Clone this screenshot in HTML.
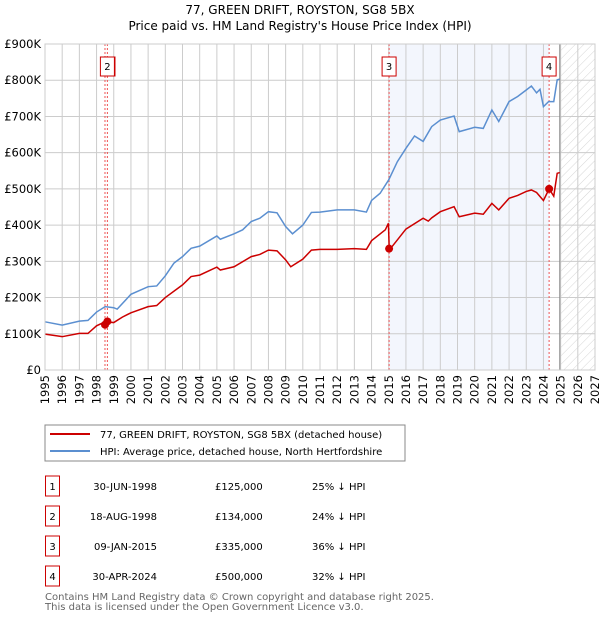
<!DOCTYPE html>
<html><head><meta charset="utf-8"><style>
body{margin:0;background:#fff;font-family:"DejaVu Sans","Liberation Sans",sans-serif;}
svg text{font-family:"DejaVu Sans","Liberation Sans",sans-serif;}
</style></head><body>
<svg id="c" width="600" height="620" xmlns="http://www.w3.org/2000/svg">
<defs><pattern id="hatch" width="6" height="6" patternUnits="userSpaceOnUse" patternTransform="rotate(45)"><line x1="0" y1="0" x2="0" y2="6" stroke="#ccc" stroke-width="0.8"/></pattern></defs>
<text x="300" y="14" text-anchor="middle" font-size="12">77, GREEN DRIFT, ROYSTON, SG8 5BX</text>
<text x="300" y="30" text-anchor="middle" font-size="12">Price paid vs. HM Land Registry's House Price Index (HPI)</text>
<g id="plot"></g>
<rect x="45" y="425" width="360" height="36" fill="#fff" stroke="#888"/>
<line x1="50" y1="434" x2="90" y2="434" stroke="#cc0000" stroke-width="2"/>
<text x="100" y="438" font-size="10">77, GREEN DRIFT, ROYSTON, SG8 5BX (detached house)</text>
<line x1="50" y1="451" x2="90" y2="451" stroke="#5b8fd0" stroke-width="2"/>
<text x="100" y="455" font-size="10">HPI: Average price, detached house, North Hertfordshire</text>
<g id="table" font-size="10"></g>
<text x="45" y="600" font-size="10" fill="#666">Contains HM Land Registry data © Crown copyright and database right 2025.</text>
<text x="45" y="610" font-size="10" fill="#666">This data is licensed under the Open Government Licence v3.0.</text>
</svg>
<script>
const hpiYears=[1995,1996,1997,1997.5,1998,1998.5,1999,1999.2,2000,2001,2001.5,2002,2002.5,2003,2003.5,2004,2005,2005.2,2006,2006.5,2007,2007.5,2008,2008.5,2009,2009.4,2010,2010.5,2011,2012,2013,2013.7,2014,2014.5,2015,2015.5,2016,2016.5,2017,2017.5,2018,2018.8,2019.1,2020,2020.5,2021,2021.4,2022,2022.5,2023,2023.3,2023.6,2023.8,2024,2024.3,2024.6,2024.8,2024.95];
const hpiValues=[133,124,135,137,160,175,172,168,209,230,232,260,295,313,336,342,370,361,376,387,410,419,437,434,396,376,400,435,436,442,442,436,468,488,525,575,612,646,631,672,690,701,658,670,667,718,686,741,755,773,784,765,775,727,741,741,801,803];
const ppYears=[1995,1996,1997,1997.5,1998,1998.5,1999,1999.5,2000,2001,2001.5,2002,2003,2003.5,2004,2005,2005.2,2006,2007,2007.5,2008,2008.5,2009,2009.3,2010,2010.5,2011,2012,2013,2013.7,2014,2014.8,2014.98,2015.03,2015.5,2016,2017,2017.3,2017.5,2018,2018.8,2019.1,2020,2020.5,2021,2021.4,2022,2022.5,2023,2023.3,2023.6,2024,2024.33,2024.6,2024.8,2024.95];
const ppValues=[99,92,101,101,122,133,131,146,158,175,178,200,235,258,262,284,276,285,313,319,331,329,304,285,306,331,333,333,335,333,357,387,405,331,359,389,419,411,420,437,451,423,433,430,460,442,474,482,493,497,490,468,500,480,543,545];
const saleLabels=["1","2","3","4"];
const saleYears=[1998.49,1998.63,2015.02,2024.33];
const salePrices=[125000,134000,335000,500000];
const saleDates=["30-JUN-1998","18-AUG-1998","09-JAN-2015","30-APR-2024"];
const salePriceText=["£125,000","£134,000","£335,000","£500,000"];
const saleDiff=["25% ↓ HPI","24% ↓ HPI","36% ↓ HPI","32% ↓ HPI"];
const yTicks=[0,100,200,300,400,500,600,700,800,900];
const yTickLabels=["£0","£100K","£200K","£300K","£400K","£500K","£600K","£700K","£800K","£900K"];
const xTicks=[1995,1996,1997,1998,1999,2000,2001,2002,2003,2004,2005,2006,2007,2008,2009,2010,2011,2012,2013,2014,2015,2016,2017,2018,2019,2020,2021,2022,2023,2024,2025,2026,2027];
const X0=45,X1=595,Y0=370,Y1=44;
const xs=y=>X0+(y-1995)/32*(X1-X0);
const ys=v=>Y0-v/900*(Y0-Y1);
const NS="http://www.w3.org/2000/svg";
const plot=document.getElementById('plot');
function mk(tag,attrs,parent){const e=document.createElementNS(NS,tag);for(const k in attrs)e.setAttribute(k,attrs[k]);(parent||plot).appendChild(e);return e;}
let r;
r=mk('rect',{x:X0,y:Y1,width:X1-X0,height:Y0-Y1,fill:'#fff'});


r=mk('rect',{x:xs(saleYears[2]),y:Y1,width:xs(saleYears[3])-xs(saleYears[2]),height:Y0-Y1,fill:'#f3f6fd'});


r=mk('rect',{x:xs(2024.95),y:Y1,width:X1-xs(2024.95),height:Y0-Y1,fill:'url(#hatch)'});


xTicks.forEach((t,i)=>{
 const l=mk('line',{x1:xs(t),x2:xs(t),y1:Y1,y2:Y0,stroke:'#ccc','stroke-width':1});
 
 
 const x=xs(t);
 const tx=mk('text',{transform:`translate(${x+4},${Y0+5}) rotate(-90)`,'text-anchor':'end','font-size':11.5});
 tx.textContent=t;
 
 
});
yTicks.forEach((t,i)=>{
 const l=mk('line',{x1:X0,x2:X1,y1:ys(t),y2:ys(t),stroke:'#ccc','stroke-width':1});
 
 
 const tx=mk('text',{x:X0-4,y:ys(t)+4,'text-anchor':'end','font-size':11.5});
 tx.textContent=yTickLabels[i];
 
 
});
r=mk('line',{x1:xs(2024.95),x2:xs(2024.95),y1:Y1,y2:Y0,stroke:'#888','stroke-width':1});


saleYears.forEach((s,i)=>{
 const l=mk('line',{x1:xs(s),x2:xs(s),y1:Y1,y2:Y0,stroke:'#ee5555','stroke-width':1,'stroke-dasharray':'2,2'});
 
 
});
let p=mk('polyline',{points:hpiYears.map((y,i)=>xs(y)+','+ys(hpiValues[i])).join(' '),fill:'none',stroke:'#5b8fd0','stroke-width':1.5});


p=mk('polyline',{points:ppYears.map((y,i)=>xs(y)+','+ys(ppValues[i])).join(' '),fill:'none',stroke:'#cc0000','stroke-width':1.5});


saleYears.forEach((s,i)=>{
 const c=mk('circle',{cx:xs(s),cy:ys(salePrices[i]/1000),r:4,fill:'#cc0000'});
 
 
 const bx=xs(s)-(i===0?4:7);
 const g=mk('g',{});
 
 
 mk('rect',{x:bx,y:57,width:14,height:19,fill:'#fff',stroke:'#cc0000'},g);
 const t=mk('text',{x:bx+7,y:70,'text-anchor':'middle','font-size':10},g);
 t.textContent=saleLabels[i];
});
r=mk('rect',{x:X0,y:Y1,width:X1-X0,height:Y0-Y1,fill:'none',stroke:'#ccc'});


const tb=document.getElementById('table');
saleLabels.forEach((lab,i)=>{
 const y=476+i*30;
 const g=mk('g',{},tb);
 
 
 mk('rect',{x:45.5,y:y,width:14,height:20,fill:'#fff',stroke:'#cc0000'},g);
 let t=mk('text',{x:52.5,y:y+14,'text-anchor':'middle'},g);t.textContent=lab;
 t=mk('text',{x:157,y:y+14,'text-anchor':'end'},g);t.textContent=saleDates[i];
 t=mk('text',{x:215,y:y+14},g);t.textContent=salePriceText[i];
 t=mk('text',{x:312,y:y+14},g);t.textContent=saleDiff[i];
});
</script>
</body></html>
